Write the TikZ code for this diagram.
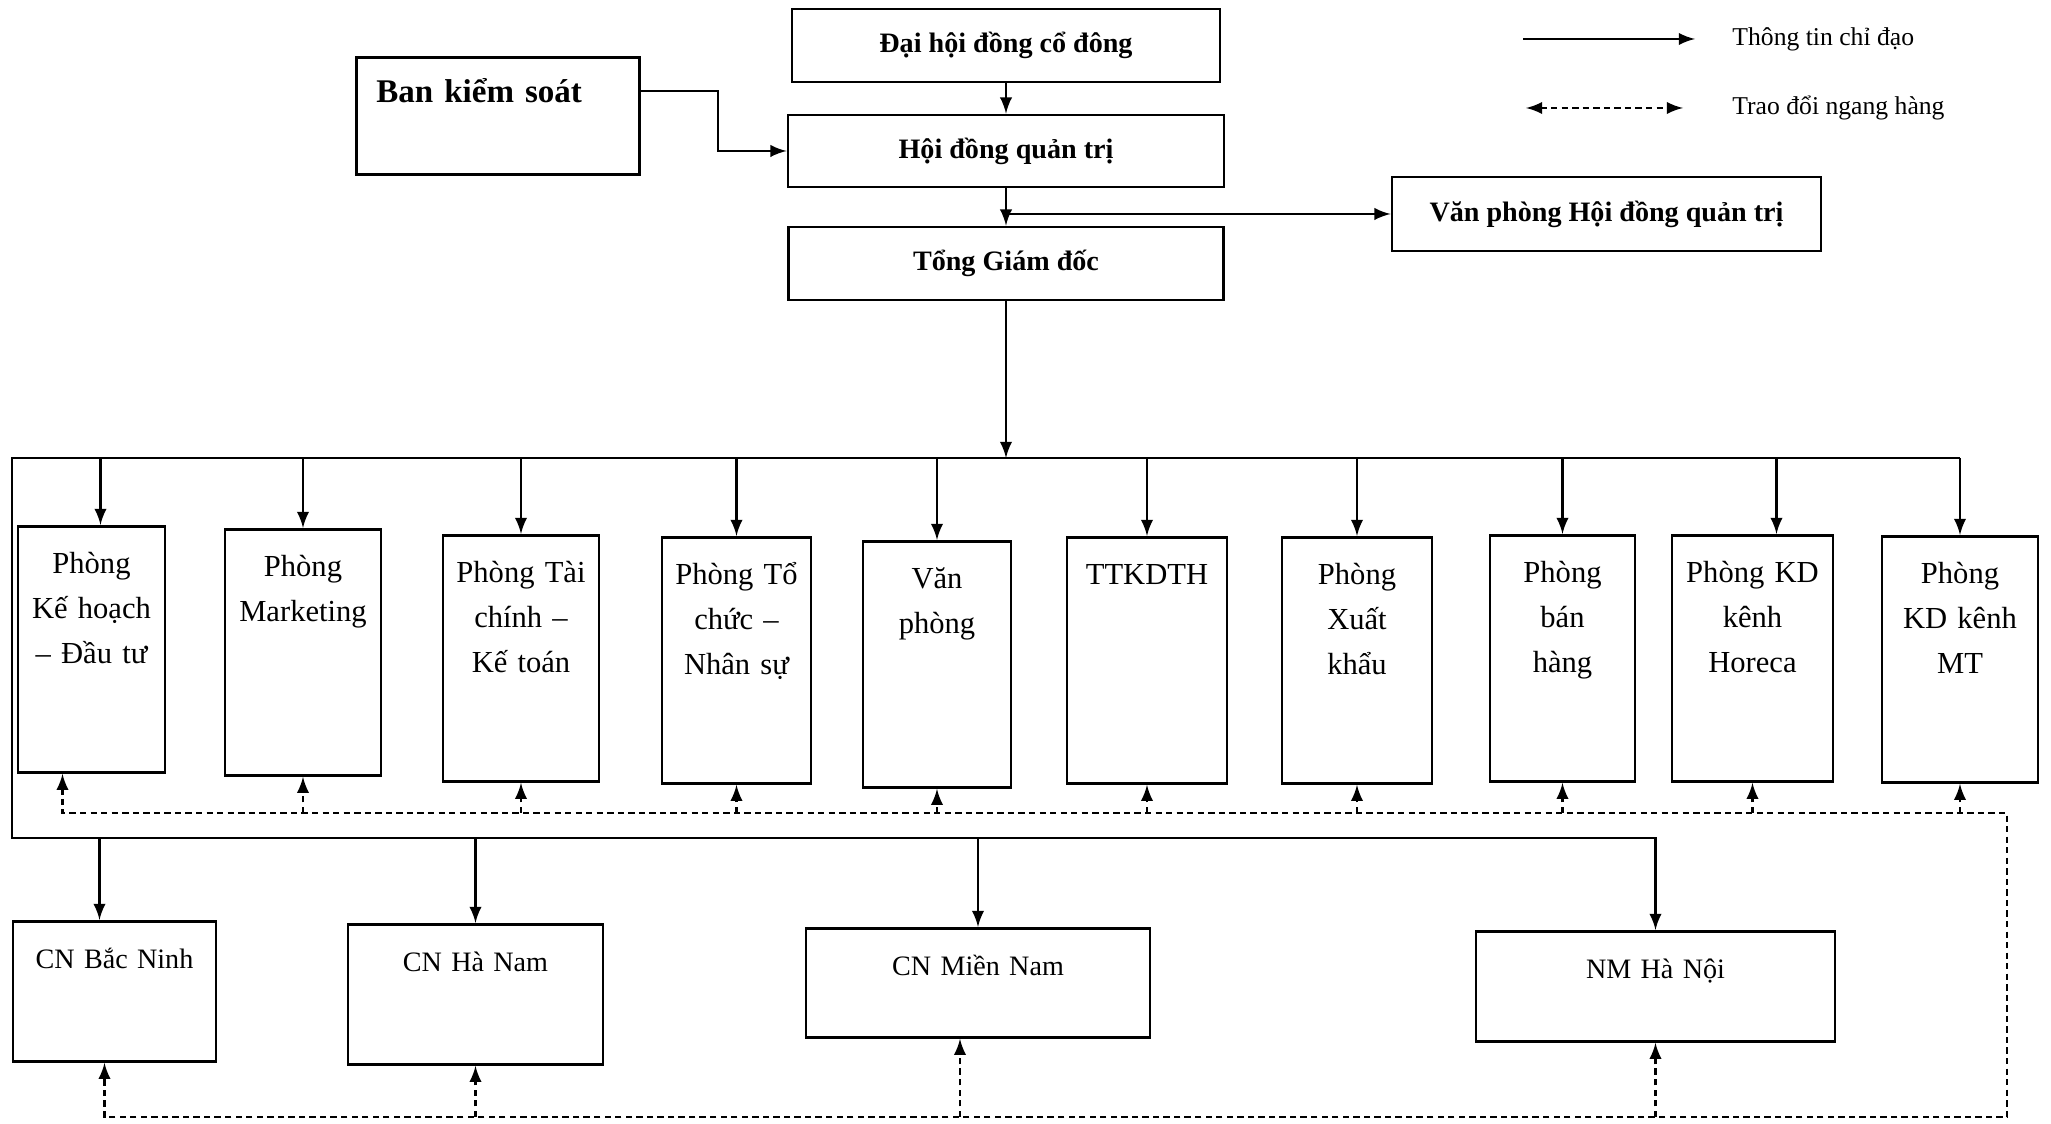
\documentclass[tikz,border=0pt]{standalone}
\usepackage{fontspec}
\setmainfont{Liberation Serif}
\usepackage{tikz}

\begin{document}
\begin{tikzpicture}[>=latex,
    hop/.style={draw, thick, font=\bfseries\fontsize{8}{10}\selectfont, minimum height=0.73cm},
    phong/.style={draw, thick, anchor=north, inner sep=0pt, align=center, font=\fontsize{8.7}{12.8}\selectfont, text height=0.47cm, text depth=1.99cm},
    cn/.style={draw, thick, anchor=north, inner sep=0pt, align=center, font=\fontsize{8}{10}\selectfont, text height=0.47cm},
    chu/.style={anchor=west, font=\fontsize{7.3}{9}\selectfont},
    tt/.style={->, semithick},
    ngang/.style={->, semithick, dash pattern=on 1.8pt off 1.2pt}]
    \useasboundingbox (0, 0) rectangle (20.51, -11.24);

    \node[hop, minimum width=4.28cm] (dh) at (10.06, -0.455) {Đại hội đồng cổ đông};
    \node[hop, minimum width=4.36cm, minimum height=0.72cm] (hd) at (10.06, -1.51) {Hội đồng quản trị};
    \node[hop, minimum width=4.35cm] (tgd) at (10.06, -2.635) {Tổng Giám đốc};
    \node[hop, minimum width=4.29cm, minimum height=0.74cm] (vp) at (16.065, -2.14) {Văn phòng Hội đồng quản trị};
    \node[draw, thick, anchor=north west, inner xsep=0.2cm, inner ysep=0pt, text width=2.43cm, text height=0.45cm, text depth=0.72cm, font=\bfseries\fontsize{9.4}{11}\selectfont] (bks) at (3.55, -0.56) {Ban kiểm soát};

    \node[chu] (lg1) at (17.20, -0.39) {Thông tin chỉ đạo};
    \node[chu] (lg2) at (17.20, -1.08) {Trao đổi ngang hàng};
    \coordinate (lg1a) at (15.23, -0.39);
    \coordinate (lg2a) at (15.26, -1.08);

    \node[phong, text width=1.47cm] (p1) at (0.915, -5.25) {Phòng\\Kế hoạch\\– Đầu tư};
    \node[phong, text width=1.56cm] (p2) at (3.03, -5.28) {Phòng\\Marketing};
    \node[phong, text width=1.56cm] (p3) at (5.21, -5.34) {Phòng Tài\\chính –\\Kế toán};
    \node[phong, text width=1.49cm] (p4) at (7.365, -5.36) {Phòng Tổ\\chức –\\Nhân sự};
    \node[phong, text width=1.48cm] (p5) at (9.37, -5.40) {Văn\\phòng};
    \node[phong, text width=1.60cm] (p6) at (11.47, -5.36) {TTKDTH};
    \node[phong, text width=1.50cm] (p7) at (13.57, -5.36) {Phòng\\Xuất\\khẩu};
    \node[phong, text width=1.45cm] (p8) at (15.625, -5.34) {Phòng\\bán\\hàng};
    \node[phong, text width=1.61cm] (p9) at (17.525, -5.34) {Phòng KD\\kênh\\Horeca};
    \node[phong, text width=1.56cm] (p10) at (19.60, -5.35) {Phòng\\KD kênh\\MT};

    \node[cn, text width=2.03cm, text depth=0.93cm] (cn1) at (1.145, -9.20) {CN Bắc Ninh};
    \node[cn, text width=2.55cm, text depth=0.93cm] (cn2) at (4.755, -9.23) {CN Hà Nam};
    \node[cn, text width=3.44cm, text depth=0.62cm] (cn3) at (9.78, -9.27) {CN Miền Nam};
    \node[cn, text width=3.59cm, text depth=0.63cm] (nm) at (16.555, -9.30) {NM Hà Nội};

    \coordinate (bus) at (0.12, -4.58);
    \coordinate (bus2) at (0.12, -8.38);
    \coordinate (d1) at (20.07, -8.13);
    \coordinate (d2) at (20.07, -11.17);

    % chi dao
    \draw[tt] (lg1a) -- ([xshift=-0.25cm]lg1.west);
    \path[tt] (dh) edge (hd)
              (hd) edge (tgd)
              (tgd) edge (tgd |- bus);
    \draw[tt] ([yshift=0.245cm]bks.east) -- ++(0.77, 0) |- (hd.west);
    \draw[tt] (hd.south |- vp.west) -- (vp.west);
    \draw[tt] (p10.north |- bus) -- (bus) -- (bus2) -| (nm.north);
    \path[tt] ([xshift=0.09cm]p1.north |- bus) edge ([xshift=0.09cm]p1.north)
              (p2.north |- bus) edge (p2.north)
              (p3.north |- bus) edge (p3.north)
              (p4.north |- bus) edge (p4.north)
              (p5.north |- bus) edge (p5.north)
              (p6.north |- bus) edge (p6.north)
              (p7.north |- bus) edge (p7.north)
              (p8.north |- bus) edge (p8.north)
              ([xshift=0.24cm]p9.north |- bus) edge ([xshift=0.24cm]p9.north)
              (p10.north |- bus) edge (p10.north)
              ([xshift=-0.15cm]cn1.north |- bus2) edge ([xshift=-0.15cm]cn1.north)
              (cn2.north |- bus2) edge (cn2.north)
              (cn3.north |- bus2) edge (cn3.north);

    % ngang hang
    \draw[ngang, <->] (lg2a) -- ([xshift=-0.37cm]lg2.west);
    \draw[ngang, <->] ([xshift=-0.29cm]p1.south) |- (d1) -- (d2) -| ([xshift=-0.1cm]cn1.south);
    \path[ngang] (p2.south |- d1) edge (p2.south)
                 (p3.south |- d1) edge (p3.south)
                 (p4.south |- d1) edge (p4.south)
                 (p5.south |- d1) edge (p5.south)
                 (p6.south |- d1) edge (p6.south)
                 (p7.south |- d1) edge (p7.south)
                 (p8.south |- d1) edge (p8.south)
                 (p9.south |- d1) edge (p9.south)
                 (p10.south |- d1) edge (p10.south)
                 (cn2.south |- d2) edge (cn2.south)
                 ([xshift=-0.18cm]cn3.south |- d2) edge ([xshift=-0.18cm]cn3.south)
                 (nm.south |- d2) edge (nm.south);
\end{tikzpicture}
\end{document}
